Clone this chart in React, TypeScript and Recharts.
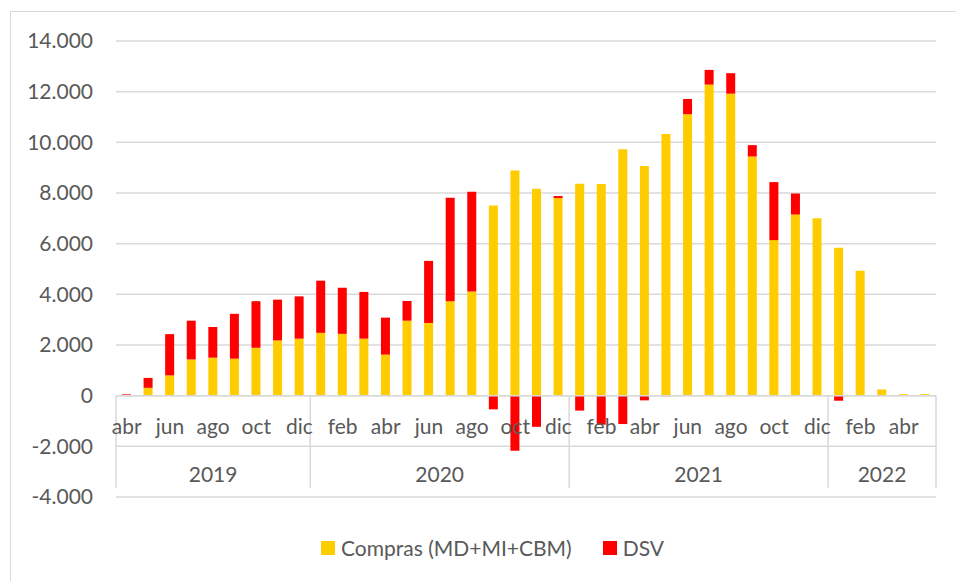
import React from 'react';
import { ComposedChart, Bar, XAxis, YAxis, CartesianGrid, ReferenceLine } from 'recharts';

const months = [
  'abr', 'may', 'jun', 'jul', 'ago', 'sep', 'oct', 'nov', 'dic',
  'ene', 'feb', 'mar', 'abr', 'may', 'jun', 'jul', 'ago', 'sep', 'oct', 'nov', 'dic',
  'ene', 'feb', 'mar', 'abr', 'may', 'jun', 'jul', 'ago', 'sep', 'oct', 'nov', 'dic',
  'ene', 'feb', 'mar', 'abr', 'may',
];

const years = ['2019', '2020', '2021', '2022'];
const monthsPerYear = [9, 12, 12, 5];

const compras = [
  20, 310, 800, 1430, 1500, 1460, 1890, 2180, 2250,
  2480, 2440, 2250, 1620, 2960, 2870, 3730, 4110, 7510, 8890, 8170, 7800,
  8370, 8360, 9730, 9070, 10330, 11110, 12280, 11920, 9440, 6140, 7150, 7000,
  5840, 4930, 245, 60, 60,
];

const dsv = [
  30, 390, 1630, 1530, 1210, 1770, 1840, 1610, 1670,
  2060, 1820, 1845, 1460, 780, 2450, 4080, 3940, -540, -2170, -1230, 80,
  -590, -1145, -1120, -185, -20, 600, 580, 810, 450, 2290, 830, 0,
  -200, 0, 0, 0, 0,
];

const yTicks = [-4000, -2000, 0, 2000, 4000, 6000, 8000, 10000, 12000, 14000];

const data = months.map((m, i) => ({ key: `m${i}`, month: m, compras: compras[i], dsv: dsv[i] }));

const FONT = 'Lato, "Open Sans", sans-serif';
const TEXT = '#595959';
const GRID = '#d9d9d9';

const fmt = (v: number) => {
  const s = Math.abs(v).toString().replace(/\B(?=(\d{3})+(?!\d))/g, '.');
  return v < 0 ? `-${s}` : s;
};

// month / year table drawn under the zero line, like the Excel multi-level axis
const CategoryAxis = (props: any) => {
  const { x1, y1, x2 } = props;
  const band = (x2 - x1) / months.length;
  const bounds: number[] = [0];
  monthsPerYear.forEach((n) => bounds.push(bounds[bounds.length - 1] + n));
  return (
    <g>
      <line x1={x1} y1={y1} x2={x2} y2={y1} stroke={GRID} strokeWidth={1.5} />
      {bounds.map((b) => (
        <line key={`v${b}`} x1={x1 + b * band} y1={y1} x2={x1 + b * band} y2={y1 + 92} stroke={GRID} strokeWidth={1.5} />
      ))}
      {months.map((m, i) =>
        i % 2 === 0 ? (
          <text key={`t${i}`} x={x1 + band * (i + 0.5)} y={y1 + 38} textAnchor="middle" fill={TEXT} fontSize={21} fontFamily={FONT}>
            {m}
          </text>
        ) : null
      )}
      {years.map((yr, k) => (
        <text
          key={yr}
          x={x1 + band * (bounds[k] + bounds[k + 1]) / 2}
          y={y1 + 86}
          textAnchor="middle"
          fill={TEXT}
          fontSize={21}
          fontFamily={FONT}
        >
          {yr}
        </text>
      ))}
    </g>
  );
};

const Swatch = ({ color }: { color: string }) => (
  <span style={{ display: 'inline-block', width: 14, height: 14, background: color, marginRight: 6 }} />
);

export default function App() {
  return (
    <div style={{ position: 'absolute', left: 0, top: 0, width: 956, height: 581, background: '#fff', overflow: 'hidden' }}>
      <div style={{ position: 'absolute', left: 10, top: 11, width: 980, height: 620, border: `1.5px solid ${GRID}` }} />
      <div style={{ position: 'absolute', left: 0, top: 0 }}>
        <ComposedChart
          width={956}
          height={581}
          data={data}
          stackOffset="sign"
          margin={{ top: 41, right: 20, bottom: 84, left: 0 }}
        >
          <CartesianGrid vertical={false} stroke={GRID} strokeWidth={1.5} />
          <XAxis dataKey="key" hide />
          <YAxis
            domain={[-4000, 14000]}
            ticks={yTicks}
            interval={0}
            width={116}
            axisLine={false}
            tickLine={false}
            tickSize={0}
            tickMargin={23}
            tickFormatter={fmt}
            tick={{ fill: TEXT, fontSize: 21, fontFamily: FONT }}
          />
          <Bar dataKey="compras" stackId="a" fill="#FFCC00" barSize={9} isAnimationActive={false} />
          <Bar dataKey="dsv" stackId="a" fill="#FF0000" barSize={9} isAnimationActive={false} />
          <ReferenceLine y={0} stroke={GRID} shape={(p: any) => <CategoryAxis {...p} />} />
        </ComposedChart>
      </div>
      <div
        style={{
          position: 'absolute',
          left: 321,
          top: 535,
          display: 'flex',
          alignItems: 'center',
          fontFamily: FONT,
          fontSize: 21,
          color: TEXT,
          whiteSpace: 'nowrap',
        }}
      >
        <Swatch color="#FFCC00" />
        <span style={{ marginRight: 31 }}>Compras (MD+MI+CBM)</span>
        <Swatch color="#FF0000" />
        <span>DSV</span>
      </div>
    </div>
  );
}
